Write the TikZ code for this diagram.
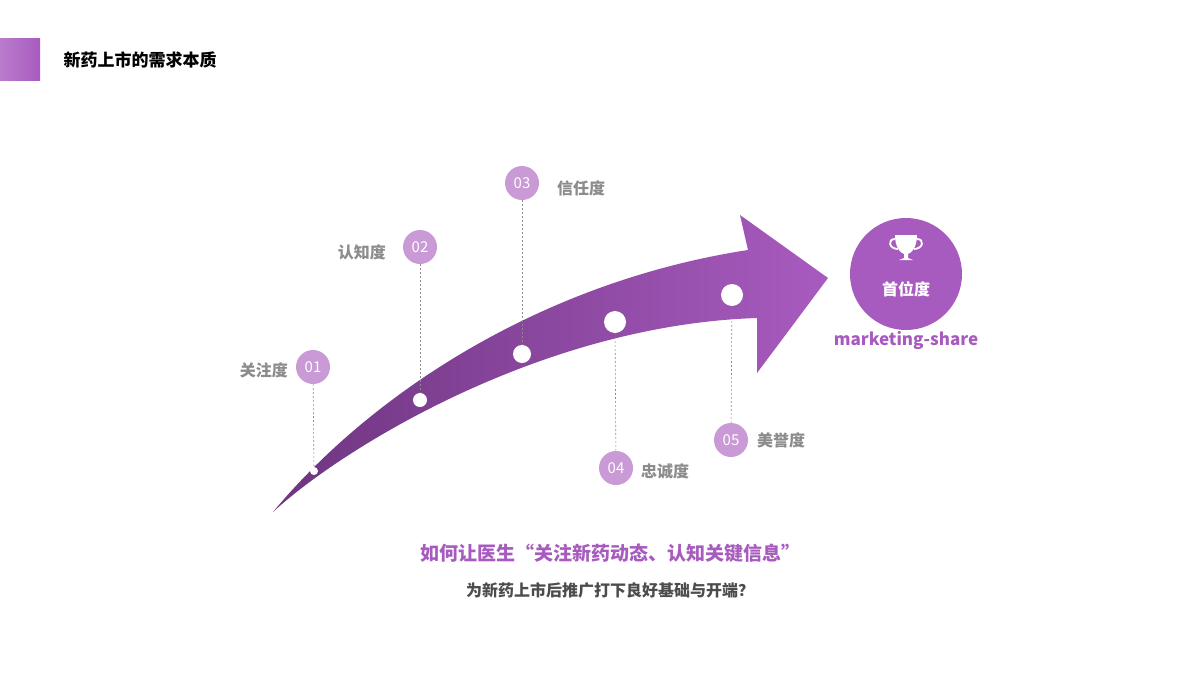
\documentclass[tikz,border=0pt]{standalone}
\usepackage{fontspec}
\setmainfont{Noto Sans CJK SC}
\usetikzlibrary{shadings}
\definecolor{pm}{HTML}{A85BBF}
\definecolor{pd}{HTML}{6E3580}
\definecolor{pl}{HTML}{C99AD6}
\definecolor{gt}{HTML}{8C8C8C}
\tikzset{
 num/.style={circle,fill=pl,minimum size=34pt,inner sep=0pt,text=white,font=\fontsize{15}{15}\selectfont},
 lab/.style={text=gt,font=\fontsize{16}{16}\selectfont\bfseries,inner sep=0pt},
 dot/.style={circle,fill=white,inner sep=0pt},
 lead/.style={gt,dashed,line width=0.6pt,dash pattern=on 2pt off 2pt}
}
\begin{document}
\begin{tikzpicture}[x=1pt,y=-1pt]
\useasboundingbox (0,0) rectangle (1200,675);
\fill[white] (0,0) rectangle (1200,675);
% header
\shade[left color=pm!80,right color=pm] (0,38) rectangle (40,80);
\node[anchor=west,font=\fontsize{17}{17}\selectfont\bfseries] (title) at (60,60) {新药上市的需求本质};
% arrow
\shade[shading angle=60,left color=pd,right color=pm]
 (273,512) .. controls (370,395) and (540,282) .. (748,250)
 -- (740,215) -- (828,278) -- (757,373) -- (757,318)
 .. controls (540,325) and (340,450) .. (273,512) -- cycle;
% dots
\node[dot,minimum size=8pt] (d1) at (314,471) {};
\node[dot,minimum size=14pt] (d2) at (420,400) {};
\node[dot,minimum size=18pt] (d3) at (522,354) {};
\node[dot,minimum size=22pt] (d4) at (615,322) {};
\node[dot,minimum size=22pt] (d5) at (732,295) {};
% number circles
\node[num] (n1) at (313,367) {01};
\node[num] (n2) at (420,247) {02};
\node[num] (n3) at (522,183) {03};
\node[num] (n4) at (616,468) {04};
\node[num] (n5) at (731,440) {05};
\draw[lead] (n1) -- (d1);
\draw[lead] (n2) -- (d2);
\draw[lead] (n3) -- (d3);
\draw[lead] (n4) -- (d4);
\draw[lead] (n5) -- (d5);
\node[lab,anchor=east] (l1) at (288,370) {关注度};
\node[lab,anchor=east] (l2) at (386,252) {认知度};
\node[lab,anchor=west] (l3) at (557,188) {信任度};
\node[lab,anchor=west] (l4) at (641,471) {忠诚度};
\node[lab,anchor=west] (l5) at (757,440) {美誉度};
% big circle
\node[circle,fill=pm,minimum size=112pt,inner sep=0pt] (big) at (906,274) {};
\node[text=white,font=\fontsize{16}{16}\selectfont\bfseries] (bt) at (906,289) {首位度};
% trophy
\fill[white] (895,235) -- (917,235) .. controls (917,248) and (911,253) .. (908,254) -- (908,258) -- (913,260) -- (899,260) -- (904,258) -- (904,254) .. controls (901,253) and (895,248) .. (895,235) -- cycle;
\draw[white,line width=1.8pt] (895,239) .. controls (887,239) and (889,249) .. (898,249);
\draw[white,line width=1.8pt] (917,239) .. controls (925,239) and (923,249) .. (914,249);
\node[text=pm,font=\fontsize{17}{17}\selectfont\bfseries] (ms) at (906,340) {marketing-share};
% bottom text
\node[text=pm,font=\fontsize{19}{19}\selectfont\bfseries] (q1) at (610,553) {如何让医生“关注新药动态、认知关键信息”};
\node[text=black!70,font=\fontsize{16}{16}\selectfont\bfseries] (q2) at (610,590) {为新药上市后推广打下良好基础与开端？};
\end{tikzpicture}
\end{document}
